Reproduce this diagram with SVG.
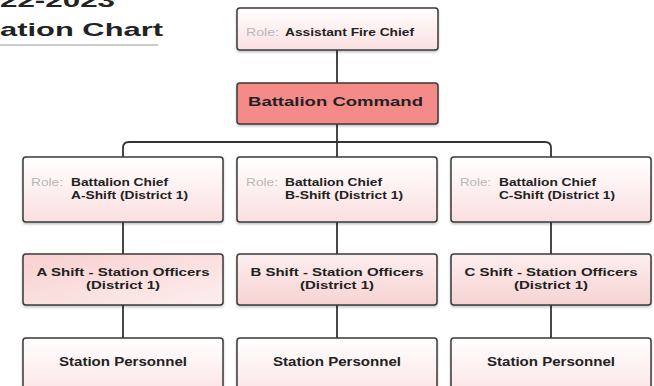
<svg xmlns="http://www.w3.org/2000/svg" width="654" height="386" viewBox="0 0 654 386">
<defs>
<linearGradient id="gRole" x1="0" y1="0" x2="0" y2="1">
<stop offset="0" stop-color="#ffffff"/>
<stop offset="1" stop-color="#fbdfe0"/>
</linearGradient>
<linearGradient id="gOff" x1="0" y1="0" x2="0" y2="1">
<stop offset="0" stop-color="#fdeeee"/>
<stop offset="1" stop-color="#f7d3d3"/>
</linearGradient>
<linearGradient id="gOffA" x1="0" y1="0" x2="1" y2="1">
<stop offset="0" stop-color="#f8d0d0"/>
<stop offset="1" stop-color="#fdeeee"/>
</linearGradient>
<filter id="sh" x="-10%" y="-10%" width="120%" height="130%">
<feDropShadow dx="0" dy="1.5" stdDeviation="1.2" flood-color="#000" flood-opacity="0.25"/>
</filter>
</defs>
<style>
.box{stroke:#3a3a3a;stroke-width:1.5;filter:url(#sh)}
.role{fill:url(#gRole)}
.cmd{fill:#f48b89}
.off{fill:url(#gOff)}
.offA{fill:url(#gOffA)}
.t{font-family:"Liberation Sans",Arial,sans-serif;fill:#222}
.lbl{font-size:11px;fill:#b8b8b8}
.val{font-size:11px;font-weight:bold}
.b{font-weight:bold}
.c{text-anchor:middle}
.conn{fill:none;stroke:#333;stroke-width:1.8}
</style>

<g id="title">
<text class="t b" x="0" y="7" font-size="19" textLength="115" lengthAdjust="spacingAndGlyphs">22-2023</text>
<text class="t b" x="0" y="36" font-size="19" textLength="163" lengthAdjust="spacingAndGlyphs">ation Chart</text>
<line x1="0" y1="45" x2="158" y2="45" stroke="#cccccc" stroke-width="2"/>
</g>

<g id="connectors">
<line class="conn" x1="337" y1="50" x2="337" y2="83"/>
<line class="conn" x1="337" y1="124" x2="337" y2="157"/>
<path class="conn" d="M123,157 V148 Q123,142 129,142 H545 Q551,142 551,148 V157"/>
<line class="conn" x1="123" y1="222" x2="123" y2="254"/>
<line class="conn" x1="337" y1="222" x2="337" y2="254"/>
<line class="conn" x1="551" y1="222" x2="551" y2="254"/>
<line class="conn" x1="123" y1="305" x2="123" y2="338"/>
<line class="conn" x1="337" y1="305" x2="337" y2="338"/>
<line class="conn" x1="551" y1="305" x2="551" y2="338"/>
</g>

<g id="assistant-fire-chief">
<rect class="box role" x="237" y="8" width="201" height="42" rx="3"/>
<text class="t lbl" x="246" y="36" textLength="33" lengthAdjust="spacingAndGlyphs">Role:</text>
<text class="t val" x="285" y="36" textLength="129" lengthAdjust="spacingAndGlyphs">Assistant Fire Chief</text>
</g>

<g id="battalion-command">
<rect class="box cmd" x="237" y="83" width="201" height="41" rx="3"/>
<text class="t b" x="248" y="106" font-size="13" textLength="175" lengthAdjust="spacingAndGlyphs">Battalion Command</text>
</g>

<g id="chief-a">
<rect class="box role" x="23" y="157" width="200" height="65" rx="3"/>
<text class="t lbl" x="31" y="186" textLength="32" lengthAdjust="spacingAndGlyphs">Role:</text>
<text class="t val" x="71" y="186" textLength="97" lengthAdjust="spacingAndGlyphs">Battalion Chief</text>
<text class="t val" x="71" y="199" textLength="117" lengthAdjust="spacingAndGlyphs">A-Shift (District 1)</text>
</g>

<g id="chief-b">
<rect class="box role" x="237" y="157" width="200" height="65" rx="3"/>
<text class="t lbl" x="246" y="186" textLength="32" lengthAdjust="spacingAndGlyphs">Role:</text>
<text class="t val" x="285" y="186" textLength="97" lengthAdjust="spacingAndGlyphs">Battalion Chief</text>
<text class="t val" x="285" y="199" textLength="118" lengthAdjust="spacingAndGlyphs">B-Shift (District 1)</text>
</g>

<g id="chief-c">
<rect class="box role" x="451" y="157" width="200" height="65" rx="3"/>
<text class="t lbl" x="460" y="186" textLength="31" lengthAdjust="spacingAndGlyphs">Role:</text>
<text class="t val" x="499" y="186" textLength="97" lengthAdjust="spacingAndGlyphs">Battalion Chief</text>
<text class="t val" x="499" y="199" textLength="116" lengthAdjust="spacingAndGlyphs">C-Shift (District 1)</text>
</g>

<g id="officers-a">
<rect class="box offA" x="23" y="254" width="200" height="51" rx="3"/>
<text class="t b c" x="123" y="276" font-size="11.5" textLength="173" lengthAdjust="spacingAndGlyphs">A Shift - Station Officers</text>
<text class="t b c" x="123" y="289" font-size="11.5" textLength="74" lengthAdjust="spacingAndGlyphs">(District 1)</text>
</g>

<g id="officers-b">
<rect class="box off" x="237" y="254" width="200" height="51" rx="3"/>
<text class="t b c" x="337" y="276" font-size="11.5" textLength="173" lengthAdjust="spacingAndGlyphs">B Shift - Station Officers</text>
<text class="t b c" x="337" y="289" font-size="11.5" textLength="74" lengthAdjust="spacingAndGlyphs">(District 1)</text>
</g>

<g id="officers-c">
<rect class="box off" x="451" y="254" width="200" height="51" rx="3"/>
<text class="t b c" x="551" y="276" font-size="11.5" textLength="173" lengthAdjust="spacingAndGlyphs">C Shift - Station Officers</text>
<text class="t b c" x="551" y="289" font-size="11.5" textLength="74" lengthAdjust="spacingAndGlyphs">(District 1)</text>
</g>

<g id="personnel-a">
<rect class="box role" x="23" y="338" width="200" height="65" rx="3"/>
<text class="t b c" x="123" y="366" font-size="12" textLength="128" lengthAdjust="spacingAndGlyphs">Station Personnel</text>
</g>

<g id="personnel-b">
<rect class="box role" x="237" y="338" width="200" height="65" rx="3"/>
<text class="t b c" x="337" y="366" font-size="12" textLength="128" lengthAdjust="spacingAndGlyphs">Station Personnel</text>
</g>

<g id="personnel-c">
<rect class="box role" x="451" y="338" width="200" height="65" rx="3"/>
<text class="t b c" x="551" y="366" font-size="12" textLength="128" lengthAdjust="spacingAndGlyphs">Station Personnel</text>
</g>
</svg>
